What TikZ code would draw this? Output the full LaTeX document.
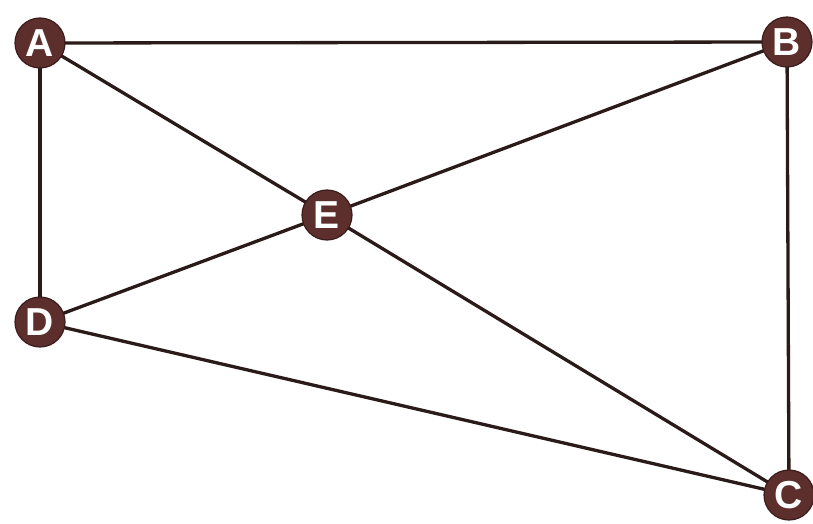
\documentclass[tikz,border=0pt]{standalone}
\usepackage{fontspec}
\setmainfont{Liberation Sans}
\usetikzlibrary{backgrounds}
\definecolor{nodebrown}{HTML}{5C2F2C}
\definecolor{nodeedge}{HTML}{3A1C1A}
\definecolor{edgecol}{HTML}{2A1B1A}
\begin{document}
\begin{tikzpicture}[x=1pt,y=-1pt,
  vert/.style={circle,fill=nodebrown,draw=nodeedge,line width=1.2pt,minimum size=50pt,inner sep=0pt,
    text=white,font=\fontsize{39}{39}\selectfont\bfseries},
  link/.style={draw=edgecol,line width=3.3pt}]
\useasboundingbox (0,0) rectangle (813,524);
\node[vert] (A) at (40,43) {A};
\node[vert] (B) at (787,42) {B};
\node[vert] (E) at (327,215) {E};
\node[vert] (D) at (40,322) {D};
\node[vert] (C) at (789,495) {C};
\begin{pgfonlayer}{background}
\fill[white] (0,0) rectangle (813,524);
\draw[link] (A.center) -- (B.center);
\draw[link] (A.center) -- (D.center);
\draw[link] (A.center) -- (E.center);
\draw[link] (B.center) -- (E.center);
\draw[link] (B.center) -- (C.center);
\draw[link] (E.center) -- (D.center);
\draw[link] (E.center) -- (C.center);
\draw[link] (D.center) -- (C.center);
\end{pgfonlayer}
\end{tikzpicture}
\end{document}
